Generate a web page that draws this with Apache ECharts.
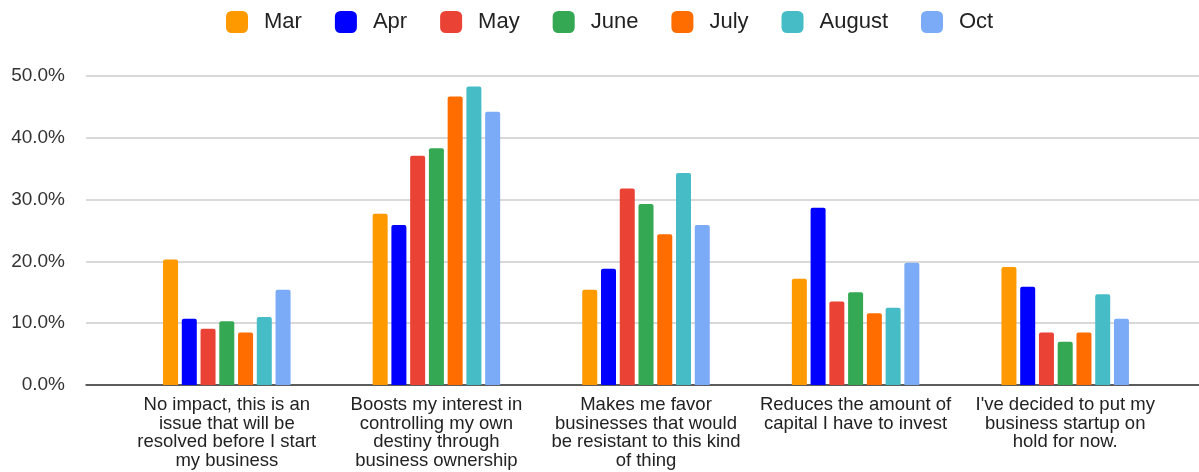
<!DOCTYPE html>
<html>
<head>
<meta charset="utf-8">
<script src="https://cdn.jsdelivr.net/npm/echarts@6/dist/echarts.min.js"></script>
<style>
html,body{margin:0;padding:0;background:#fff;}
#chart{width:1199px;height:472px;}
</style>
</head>
<body>
<div id="chart"></div>
<script>
const categories = [
  "No impact, this is an\nissue that will be\nresolved before I start\nmy business",
  "Boosts my interest in\ncontrolling my own\ndestiny through\nbusiness ownership",
  "Makes me favor\nbusinesses that would\nbe resistant to this kind\nof thing",
  "Reduces the amount of\ncapital I have to invest",
  "I've decided to put my\nbusiness startup on\nhold for now."
];
const seriesNames = ["Mar", "Apr", "May", "June", "July", "August", "Oct"];
const seriesColors = ["#ff9900", "#0000ff", "#ea4335", "#34a853", "#ff6d01", "#46bdc6", "#7baaf7"];
const marValues = [20.3, 27.7, 15.4, 17.2, 19.1];
const aprValues = [10.7, 25.9, 18.8, 28.7, 15.9];
const mayValues = [9.1, 37.1, 31.8, 13.5, 8.5];
const juneValues = [10.3, 38.3, 29.3, 15.0, 7.0];
const julyValues = [8.5, 46.7, 24.4, 11.6, 8.5];
const augustValues = [11.0, 48.3, 34.3, 12.5, 14.7];
const octValues = [15.4, 44.2, 25.9, 19.8, 10.7];
const yTicks = { min: 0, max: 50, interval: 10 };

const allValues = [marValues, aprValues, mayValues, juneValues, julyValues, augustValues, octValues];
const FONT = 'Arial, "Liberation Sans", sans-serif';

const chart = echarts.init(document.getElementById('chart'));
chart.setOption({
  animation: false,
  textStyle: { fontFamily: FONT },
  legend: {
    top: 6,
    left: 221,
    itemWidth: 22,
    itemHeight: 22,
    itemGap: 33,
    icon: 'roundRect',
    textStyle: { fontSize: 22, color: '#222', fontFamily: FONT, padding: [0, 0, 0, 11] },
    data: seriesNames
  },
  grid: [
    { left: 86, right: 0, top: 76, bottom: 87 },
    { left: 122, right: 29, top: 76, bottom: 87 }
  ],
  xAxis: [
    {
      gridIndex: 0, type: 'value', min: 0, max: 1,
      axisLine: { show: true, lineStyle: { color: '#333', width: 1.5 } },
      axisTick: { show: false }, axisLabel: { show: false }, splitLine: { show: false }
    },
    {
      gridIndex: 1, type: 'category', data: categories,
      axisLine: { show: false }, axisTick: { show: false },
      axisLabel: { interval: 0, fontSize: 18.5, lineHeight: 18.5, color: '#222', margin: 11, fontFamily: FONT, align: 'center' }
    }
  ],
  yAxis: [
    {
      gridIndex: 0, type: 'value', min: yTicks.min, max: yTicks.max, interval: yTicks.interval,
      axisLine: { show: false }, axisTick: { show: false },
      axisLabel: { fontSize: 19, color: '#333', margin: 21, fontFamily: FONT, formatter: v => v.toFixed(1) + '%' },
      splitLine: { lineStyle: { color: '#cccccc', width: 1.5 } }
    },
    {
      gridIndex: 1, type: 'value', min: yTicks.min, max: yTicks.max, interval: yTicks.interval, show: false,
      splitLine: { show: false }
    }
  ],
  series: seriesNames.map((name, i) => ({
    name: name,
    type: 'bar',
    xAxisIndex: 1,
    yAxisIndex: 1,
    barWidth: 15,
    barGap: '25%',
    itemStyle: { color: seriesColors[i], borderRadius: [2, 2, 0, 0] },
    data: allValues[i]
  }))
});
</script>
</body>
</html>
